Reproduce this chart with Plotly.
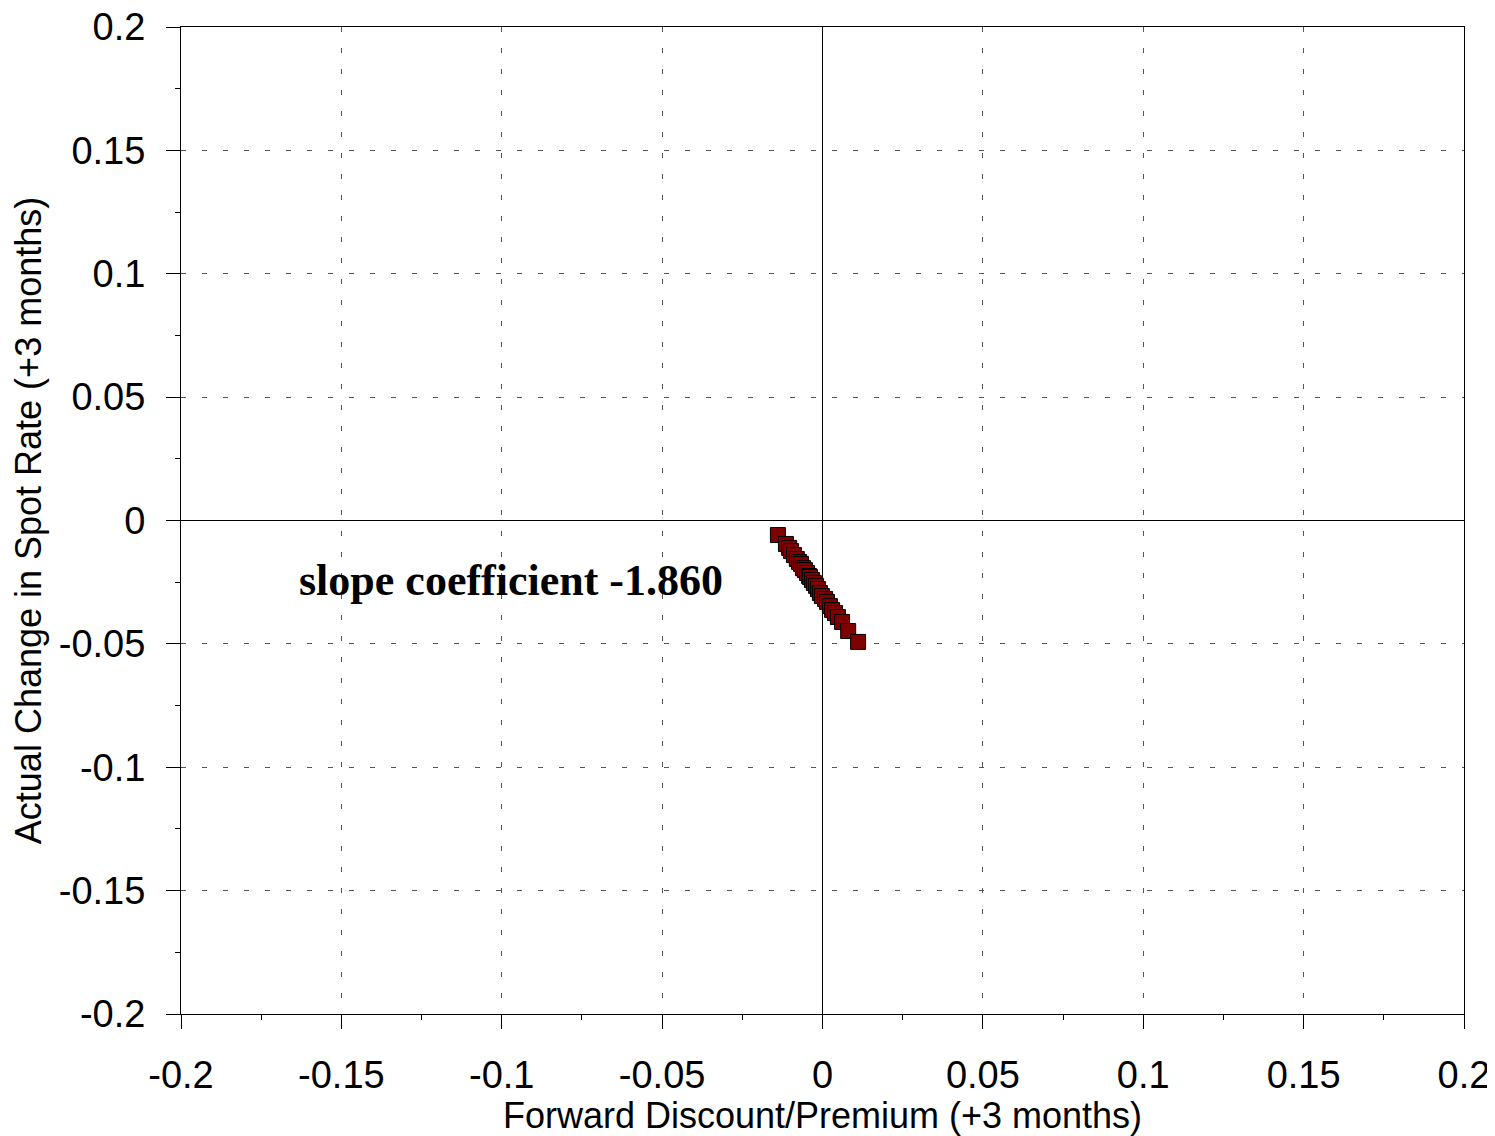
import plotly.graph_objects as go

# --- DATA ---
fwd_premium = [-0.0139, -0.0114, -0.0104, -0.0098, -0.0089, -0.0080, -0.0073,
               -0.0067, -0.0061, -0.0055, -0.0048, -0.0042, -0.0039, -0.0033,
               -0.0027, -0.0020, -0.0014, -0.0008, -0.0002, 0.0008, 0.0014,
               0.0023, 0.0030, 0.0039, 0.0048, 0.0061, 0.0080, 0.0111]
spot_change = [-0.0059, -0.0095, -0.0111, -0.0124, -0.0140, -0.0156, -0.0168,
               -0.0176, -0.0193, -0.0201, -0.0213, -0.0225, -0.0229, -0.0241,
               -0.0253, -0.0265, -0.0278, -0.0294, -0.0306, -0.0318, -0.0330,
               -0.0347, -0.0363, -0.0375, -0.0391, -0.0411, -0.0448, -0.0492]

tick_vals = [-0.2, -0.15, -0.1, -0.05, 0, 0.05, 0.1, 0.15, 0.2]
tick_text = ["-0.2", "-0.15", "-0.1", "-0.05", "0", "0.05", "0.1", "0.15", "0.2"]

slope_label = "slope coefficient -1.860"
label_pos = (-0.097, -0.0245)

fig = go.Figure()
fig.add_trace(go.Scatter(
    x=fwd_premium,
    y=spot_change,
    mode="markers",
    marker=dict(symbol="square", size=15, color="#800000",
                line=dict(color="black", width=1)),
    showlegend=False,
))

fig.add_annotation(
    x=label_pos[0], y=label_pos[1], text=f"<b>{slope_label}</b>",
    showarrow=False,
    font=dict(family="Liberation Serif, Times New Roman, serif", size=44, color="black"),
)

axis_common = dict(
    range=[-0.2, 0.2],
    tickvals=tick_vals,
    ticktext=tick_text,
    ticks="outside",
    ticklen=14,
    tickcolor="black",
    showline=True,
    linecolor="black",
    linewidth=1,
    mirror=True,
    showgrid=True,
    gridcolor="#555555",
    gridwidth=1,
    griddash="5px,16px",
    zeroline=True,
    zerolinecolor="black",
    zerolinewidth=1,
    automargin=False,
    ticklabelstandoff=13,
    ticklabeloverflow="allow",
    minor=dict(dtick=0.025, ticks="outside", ticklen=5, tickcolor="black", showgrid=False),
    tickfont=dict(family="Liberation Sans, Arial", size=38, color="black"),
)

fig.update_xaxes(
    **axis_common,
    title=dict(text="Forward Discount/Premium (+3 months)",
               font=dict(family="Liberation Sans, Arial", size=36, color="black"),
               standoff=4),
)
fig.update_yaxes(
    **axis_common,
    title=dict(text="Actual Change in Spot Rate (+3 months)",
               font=dict(family="Liberation Sans, Arial", size=36, color="black"),
               standoff=7),
)

# page body adds an 8px offset, so the figure is sized to fit inside it
fig.update_layout(
    width=1487,
    height=1128,
    margin=dict(l=173, r=31, t=19, b=122),
    plot_bgcolor="white",
    paper_bgcolor="white",
)

fig.write_html("out.html")
